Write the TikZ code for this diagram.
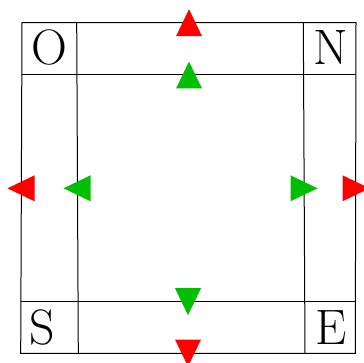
\documentclass[tikz,border=0pt]{standalone}
\usetikzlibrary{calc}
\definecolor{dgred}{RGB}{255,0,0}
\definecolor{dggreen}{RGB}{0,190,0}

\begin{document}
\begin{tikzpicture}[
    x=0.5pt, y=-0.5pt,
    % Frame lines and the big corner letters.
    frame/.style={draw=black, line width=0.5pt},
    corner/.style={font=\Huge, anchor=base west, inner sep=0pt},
    outtri/.style={fill=dgred},
    intri/.style={fill=dggreen}
]
    \useasboundingbox (0,0) rectangle (364,363);

    % Outer frame (slightly skewed, as in the drawing).
    \coordinate (tl) at (22,22.7);
    \coordinate (tr) at (356,22.7);
    \coordinate (br) at (355.3,353.3);
    \coordinate (bl) at (20.7,353.3);
    \draw[frame] (tl) -- (tr) -- (br) -- (bl) -- cycle;

    % Inner strips: two columns and two rows.
    \coordinate (lt) at (76.7,22.7);
    \coordinate (lb) at (78.3,353.3);
    \coordinate (rt) at (303.3,22.7);
    \coordinate (rb) at (305,353.3);
    \draw[frame] (lt) -- (lb);
    \draw[frame] (rt) -- (rb);
    \draw[frame] ($(tl)!0.158!(bl)$) -- ($(tr)!0.158!(br)$);
    \draw[frame] ($(tl)!0.844!(bl)$) -- ($(tr)!0.844!(br)$);

    \node[corner] (ouest) at (31,65) {O};
    \node[corner] (nord) at (313.5,65) {N};
    \node[corner] (sud) at (29.5,344) {S};
    \node[corner] (est) at (315,344) {E};

    % Red triangles sit on the outer frame, green ones on the inner lines.
    \foreach \x/\y/\r/\s in {
        189/22.7/0/outtri, 189/75/0/intri,
        21/188.3/90/outtri, 77/188.3/90/intri,
        304/188.3/-90/intri, 356/188.3/-90/outtri,
        188/301.7/180/intri, 188/353/180/outtri} {
        \fill[\s, shift={(\x,\y)}, rotate=\r]
            (0,-13.5) -- (13,13.5) -- (-13,13.5) -- cycle;
    }
\end{tikzpicture}
\end{document}
